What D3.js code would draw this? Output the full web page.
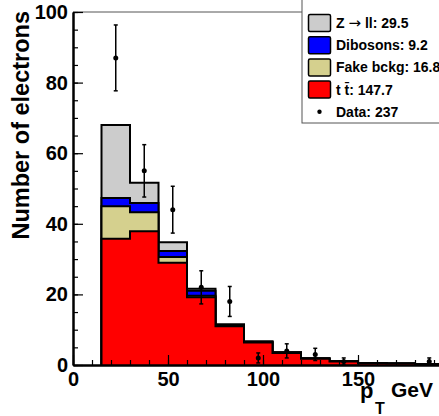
<!DOCTYPE html>
<html>
<head>
<meta charset="utf-8">
<script src="https://cdn.jsdelivr.net/npm/d3@7"></script>
<style>
  html, body { margin: 0; padding: 0; background: #fff; }
  svg { display: block; }
  text { font-family: "Liberation Sans", Arial, sans-serif; font-weight: bold; fill: #000; }
</style>
</head>
<body>
<svg id="chart" width="439" height="416"></svg>
<script>
// ---- data ----
const binEdges = [15, 30, 45, 60, 75, 90, 105, 120, 135, 150, 165, 180, 195, 210];
const ttbar    = [35.8, 37.9, 29.0, 19.2, 11.0, 6.4, 3.4, 1.8, 1.0, 0.5, 0.4, 0.2, 0.2];
const fake     = [9.2, 5.4, 1.6, 0.4, 0.1, 0.05, 0.05, 0, 0, 0, 0, 0, 0];
const dibosons = [2.3, 2.6, 1.7, 1.4, 0.4, 0.2, 0.15, 0.1, 0.05, 0.05, 0.05, 0.05, 0.05];
const zll      = [20.7, 5.7, 2.5, 0.6, 0, 0, 0, 0, 0, 0, 0, 0, 0];
const dataCounts = [87, 55, 44, 22, 18, 2, 4, 3, 1, 0, 0, 1, 0];

const xTicks = [0, 50, 100, 150];
const yTicks = [0, 20, 40, 60, 80, 100];
const legendLabels = [["Z ", "\u2192", " ll: 29.5"], ["Dibosons: 9.2"], ["Fake bckg: 16.8"], ["t t\u0304: 147.7"], ["Data: 237"]];
const legendColors = ["#cccccc", "#0000ff", "#d5d08e", "#ff0000", null];

// ---- scales ----
const svg = d3.select("#chart");
const x = d3.scaleLinear().domain([0, 200]).range([73, 453]);
const y = d3.scaleLinear().domain([0, 100]).range([365, 12]);

// cumulative stacks (bottom to top: ttbar, fake, dibosons, zll)
const layers = [ttbar, fake, dibosons, zll];
const layerColors = ["#ff0000", "#d5d08e", "#0000ff", "#cccccc"];
const cum = [];
let run = ttbar.map(() => 0);
layers.forEach(l => { run = run.map((v, i) => v + l[i]); cum.push(run.slice()); });

const line = d3.line().x(d => x(d[0])).y(d => y(d[1]));
function stepPoints(vals) {
  const pts = [[binEdges[0], 0]];
  vals.forEach((v, i) => { pts.push([binEdges[i], v]); pts.push([binEdges[i + 1], v]); });
  pts.push([binEdges[binEdges.length - 1], 0]);
  return pts;
}

const gHist = svg.append("g");
for (let k = cum.length - 1; k >= 0; k--) {
  gHist.append("path")
    .attr("d", line(stepPoints(cum[k])))
    .attr("fill", layerColors[k])
    .attr("stroke", "#000")
    .attr("stroke-width", 2)
    .attr("stroke-linejoin", "miter");
}

// data points
const gData = svg.append("g");
dataCounts.forEach((n, i) => {
  if (n <= 0) return;
  const cx = x((binEdges[i] + binEdges[i + 1]) / 2);
  const e = Math.sqrt(n);
  const y1 = y(n + e), y0 = y(Math.max(0, n - e));
  gData.append("line").attr("x1", cx).attr("x2", cx).attr("y1", y1).attr("y2", y0)
    .attr("stroke", "#000").attr("stroke-width", 1.5);
  [y1, y0].forEach(yy => gData.append("line").attr("x1", cx - 2).attr("x2", cx + 2)
    .attr("y1", yy).attr("y2", yy).attr("stroke", "#000").attr("stroke-width", 1.5));
  gData.append("circle").attr("cx", cx).attr("cy", y(n)).attr("r", 2.5).attr("fill", "#000");
});

// top frame line
svg.append("line").attr("x1", x(0)).attr("x2", 439).attr("y1", y(100)).attr("y2", y(100))
  .attr("stroke", "#555").attr("stroke-width", 1);

// axes
const fmt = d3.format("d");
const yMinor = svg.append("g").attr("transform", `translate(${x(0)},0)`)
  .call(d3.axisLeft(y).tickValues(d3.range(0, 101, 5)).tickSize(-5).tickSizeOuter(0).tickFormat(""));
const yAxis = svg.append("g").attr("transform", `translate(${x(0)},0)`)
  .call(d3.axisLeft(y).tickValues(yTicks).tickSize(-10).tickSizeOuter(0).tickPadding(5).tickFormat(fmt));
const xMinor = svg.append("g").attr("transform", `translate(0,${y(0)})`)
  .call(d3.axisBottom(x).tickValues(d3.range(0, 201, 10)).tickSize(-5).tickSizeOuter(0).tickFormat(""));
const xAxis = svg.append("g").attr("transform", `translate(0,${y(0)})`)
  .call(d3.axisBottom(x).tickValues(xTicks).tickSize(-10).tickSizeOuter(0).tickPadding(7).tickFormat(fmt));
[yMinor, yAxis, xMinor, xAxis].forEach(g => {
  g.selectAll(".domain").attr("stroke", "#000").attr("stroke-width", 2);
  g.selectAll(".tick line").attr("stroke", "#000").attr("stroke-width", 1.2);
  g.selectAll("text").style("font-size", "20px").style("font-family", "Liberation Sans, Arial, sans-serif")
    .style("font-weight", "bold").attr("fill", "#000");
});

// axis titles
svg.append("text").attr("transform", "translate(29,11) rotate(-90)")
  .attr("text-anchor", "end").style("font-size", "23.5px").text("Number of electrons");
svg.append("text").attr("x", 360).attr("y", 398).style("font-size", "22px").text("p");
svg.append("text").attr("x", 375).attr("y", 414).style("font-size", "16px").text("T");
svg.append("text").attr("x", 391).attr("y", 397).style("font-size", "21px").text("GeV");

// legend
const lg = svg.append("g");
lg.append("rect").attr("x", 302).attr("y", -2).attr("width", 160).attr("height", 125)
  .attr("fill", "#fff").attr("stroke", "#555").attr("stroke-width", 1);
legendLabels.forEach((parts, i) => {
  const cy = 23 + i * 22.2;
  if (legendColors[i]) {
    lg.append("rect").attr("x", 308.5).attr("y", cy - 8.5).attr("width", 22).attr("height", 17)
      .attr("rx", 1.5).attr("fill", legendColors[i]).attr("stroke", "#000").attr("stroke-width", 1.5);
  } else {
    lg.append("circle").attr("cx", 319.5).attr("cy", cy).attr("r", 2.2).attr("fill", "#000");
  }
  const t = lg.append("text").attr("x", 336).attr("y", cy).attr("dy", "0.36em").style("font-size", "14px");
  parts.forEach(p => {
    const ts = t.append("tspan").text(p);
    if (p === "\u2192") ts.style("font-family", "DejaVu Sans").style("font-weight", "normal").style("font-size", "15px");
  });
});
</script>
</body>
</html>
